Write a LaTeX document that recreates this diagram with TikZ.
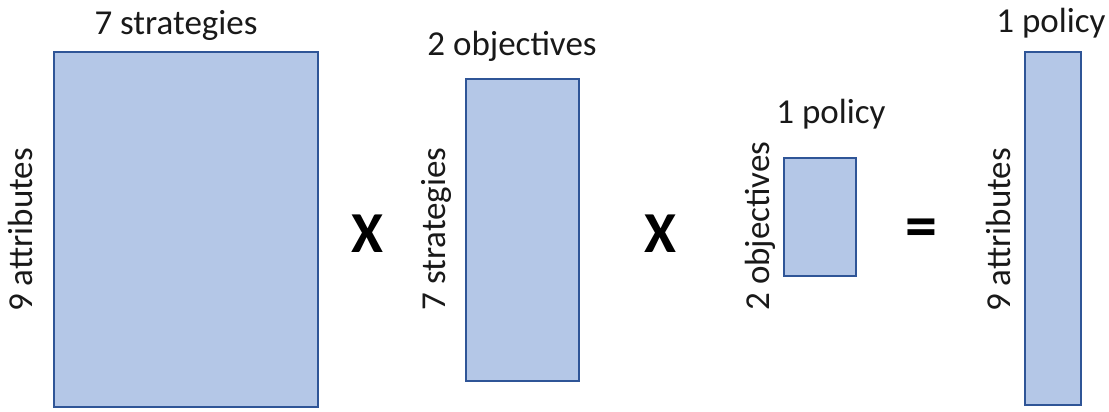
\documentclass[tikz,border=0pt]{standalone}
\usepackage{fontspec}
\setmainfont{Carlito}
\definecolor{boxfill}{HTML}{B4C7E7}
\definecolor{boxline}{HTML}{2F5597}
\begin{document}
\begin{tikzpicture}[x=1pt,y=1pt,
  mat/.style={draw=boxline,fill=boxfill,line width=1.6pt},
  lbl/.style={font=\fontsize{35}{40}\selectfont,text=black!90,inner sep=0pt},
  op/.style={font=\fontsize{58}{60}\selectfont\bfseries,inner sep=0pt}]
\useasboundingbox (0,0) rectangle (1109,412);
% matrices (y = 412 - pixel y)
\draw[mat] (54,5) rectangle (318,360);
\draw[mat] (466,31) rectangle (579,333);
\draw[mat] (784,136) rectangle (856,254);
\draw[mat] (1025,7) rectangle (1081,360);
% labels
\node[lbl] (t1) at (176,387) {7 strategies};
\node[lbl] (t2) at (512,366) {2 objectives};
\node[lbl] (t3) at (831,298) {1 policy};
\node[lbl] (t4) at (1051,389) {1 policy};
\node[lbl,rotate=90] (s1) at (20,182) {9 attributes};
\node[lbl,rotate=90] (s2) at (436,183) {7 strategies};
\node[lbl,rotate=90] (s3) at (760,186) {2 objectives};
\node[lbl,rotate=90] (s4) at (998,182) {9 attributes};
% operators
\node[op] (x1) at (367,178) {X};
\node[op] (x2) at (660,178) {X};
\node[op,font=\fontsize{64}{66}\selectfont\bfseries] (eq) at (921,179) {=};
\end{tikzpicture}
\end{document}
